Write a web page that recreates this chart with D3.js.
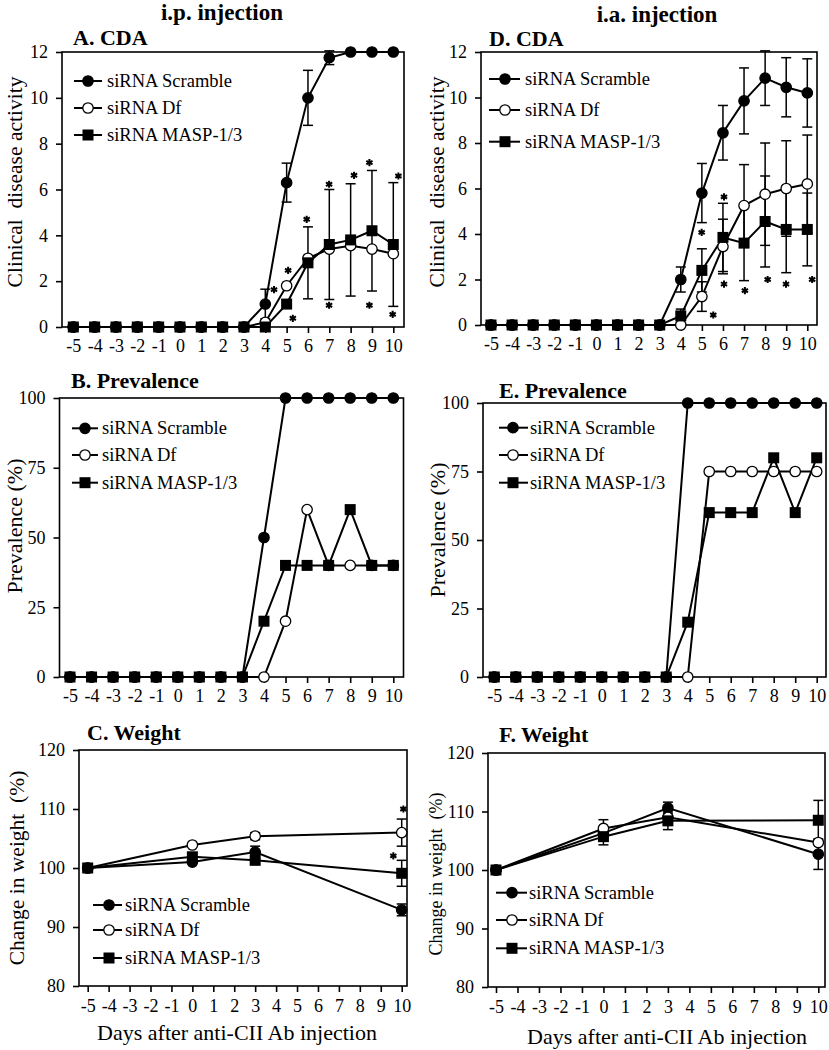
<!DOCTYPE html>
<html><head><meta charset="utf-8">
<script src="https://cdn.jsdelivr.net/npm/d3@7"></script>
<style>
body{margin:0;background:#fff}
svg{display:block}
text{font-family:"Liberation Serif","Times New Roman",serif;fill:#000}
</style>
</head><body>
<svg id="chart" width="829" height="1050"></svg>
<script>
// ---------- data ----------
const seriesNames = ["siRNA Scramble", "siRNA Df", "siRNA MASP-1/3"];
const days = [-5,-4,-3,-2,-1,0,1,2,3,4,5,6,7,8,9,10];
const weightDays = [-5, 0, 3, 10];
const dayTicks = [-5,-4,-3,-2,-1,0,1,2,3,4,5,6,7,8,9,10];
const cdaTicks = [0, 2, 4, 6, 8, 10, 12];
const prevTicks = [0, 25, 50, 75, 100];
const weightTicks = [80, 90, 100, 110, 120];

// A. CDA (i.p.)
const cdaIpScramble    = [0,0,0,0,0,0,0,0,0,1.0,6.3,10.0,11.75,12,12,12];
const cdaIpDf          = [0,0,0,0,0,0,0,0,0,0.2,1.8,3.0,3.4,3.55,3.4,3.2];
const cdaIpMasp        = [0,0,0,0,0,0,0,0,0,0,1.0,2.8,3.6,3.8,4.2,3.6];
const cdaIpScrambleErr = [0,0,0,0,0,0,0,0,0,0.65,0.85,1.2,0.3,0,0,0];
const cdaIpDfErr       = [0,0,0,0,0,0,0,0,0,0,0,0,0,0,0,0];
const cdaIpMaspErr     = [0,0,0,0,0,0,0,0,0,0,0,1.57,2.4,2.45,2.63,2.7];
const cdaIpStarDays    = [4.41,5.07,5.29,5.94,6.99,6.99,8.16,8.88,8.88,10.24,9.97];
const cdaIpStarValues  = [1.63,2.47,0.38,4.7,6.23,0.95,6.62,7.17,0.95,6.59,0.55];

// D. CDA (i.a.)
const cdaIaScramble    = [0,0,0,0,0,0,0,0,0,2.0,5.8,8.45,9.85,10.85,10.45,10.2];
const cdaIaDf          = [0,0,0,0,0,0,0,0,0,0,1.25,3.45,5.25,5.75,6.0,6.2];
const cdaIaMasp        = [0,0,0,0,0,0,0,0,0,0.4,2.4,3.85,3.6,4.55,4.2,4.2];
const cdaIaScrambleErr = [0,0,0,0,0,0,0,0,0,0.55,1.3,1.2,1.45,1.2,1.3,1.5];
const cdaIaDfErr       = [0,0,0,0,0,0,0,0,0,0,0.65,1.2,1.8,2.25,2.1,2.15];
const cdaIaMaspErr     = [0,0,0,0,0,0,0,0,0,0.3,0.95,1.5,1.65,2.0,1.9,1.6];
const cdaIaStarDays    = [4.99,5.54,6.05,6.05,7.04,8.12,8.99,10.23];
const cdaIaStarValues  = [4.07,0.44,5.63,1.8,1.51,2.0,1.8,2.0];

// B. Prevalence (i.p.)
const prevIpScramble = [0,0,0,0,0,0,0,0,0,50,100,100,100,100,100,100];
const prevIpDf       = [0,0,0,0,0,0,0,0,0,0,20,60,40,40,40,40];
const prevIpMasp     = [0,0,0,0,0,0,0,0,0,20,40,40,40,60,40,40];

// E. Prevalence (i.a.)
const prevIaScramble = [0,0,0,0,0,0,0,0,0,100,100,100,100,100,100,100];
const prevIaDf       = [0,0,0,0,0,0,0,0,0,0,75,75,75,75,75,75];
const prevIaMasp     = [0,0,0,0,0,0,0,0,0,20,60,60,60,80,60,80];

// C. Weight (i.p.)
const wIpScramble    = [100, 101.0, 102.7, 92.9];
const wIpDf          = [100, 103.9, 105.4, 106.0];
const wIpMasp        = [100, 101.9, 101.3, 99.1];
const wIpScrambleErr = [0, 0, 1.0, 1.0];
const wIpDfErr       = [0, 0, 0.6, 2.3];
const wIpMaspErr     = [0, 0, 0, 2.2];
const wIpStarDays    = [10.08, 9.6];
const wIpStarValues  = [110.0, 102.05];

// F. Weight (i.a.)
const wIaScramble    = [100, 106.3, 110.6, 102.7];
const wIaDf          = [100, 107.1, 109.0, 104.7];
const wIaMasp        = [100, 105.7, 108.4, 108.5];
const wIaScrambleErr = [0, 0, 1.0, 2.6];
const wIaDfErr       = [0, 1.5, 0, 0];
const wIaMaspErr     = [0, 1.4, 1.5, 3.4];

// ---------- drawing ----------
const svg = d3.select("#chart");
svg.append("rect").attr("width", 829).attr("height", 1050).attr("fill", "#fff");

const markerKinds = ["filled", "open", "square"];
const fmt = d => String(d);

function drawMarker(g, kind, cx, cy) {
  if (kind === "square") {
    g.append("rect").attr("x", cx - 5.5).attr("y", cy - 5.5).attr("width", 11).attr("height", 11)
      .attr("fill", "#000");
  } else {
    g.append("circle").attr("cx", cx).attr("cy", cy).attr("r", 5.2)
      .attr("fill", kind === "open" ? "#fff" : "#000").attr("stroke", "#000").attr("stroke-width", 1.3);
  }
}

function drawPanel(p) {
  const g = svg.append("g");
  const x = d3.scaleLinear().domain([-5, 10]).range([p.x0, p.x1]);
  const y = d3.scaleLinear().domain(p.yDomain).range([p.b, p.t]);

  // frame
  g.append("rect").attr("x", p.l).attr("y", p.t).attr("width", p.r - p.l).attr("height", p.b - p.t)
    .attr("fill", "none").attr("stroke", "#000").attr("stroke-width", 1.6);

  // y axis
  const ya = g.append("g").attr("transform", `translate(${p.l},0)`)
    .call(d3.axisLeft(y).tickValues(p.yTicks).tickSize(6).tickPadding(8).tickFormat(fmt));
  ya.select(".domain").remove();
  ya.selectAll("line").attr("stroke-width", 1.6);
  ya.selectAll("text").style("font-family", '"Liberation Serif",serif').style("font-size", "18px");

  // x axis
  const xa = g.append("g").attr("transform", `translate(0,${p.b})`)
    .call(d3.axisBottom(x).tickValues(dayTicks).tickSize(6).tickPadding(p.xPad).tickFormat(fmt));
  xa.select(".domain").remove();
  xa.selectAll("line").attr("stroke-width", 1.6);
  xa.selectAll("text").style("font-family", '"Liberation Serif",serif').style("font-size", "18px");

  // panel title
  g.append("text").attr("x", p.titleX).attr("y", p.titleY).style("font-weight", "bold")
    .style("font-size", "22px").text(p.title);

  // y label
  g.append("text").attr("transform", `translate(${p.ylabX},${p.ylabY}) rotate(-90)`)
    .attr("text-anchor", "middle").attr("dominant-baseline", "central")
    .style("font-size", p.ylabFont + "px").style("white-space", "pre").text(p.ylab);

  const line = d3.line().x(d => x(d.day)).y(d => y(d.v));

  const seriesData = p.series.map((vals, si) => vals.map((v, i) => ({
    day: p.days[i], v: v, e: p.errs ? p.errs[si][i] : 0
  })));

  // lines
  seriesData.forEach(sd => {
    g.append("path").datum(sd).attr("d", line).attr("fill", "none")
      .attr("stroke", "#000").attr("stroke-width", 2);
  });

  // error bars
  seriesData.forEach(sd => {
    sd.filter(d => d.e > 0).forEach(d => {
      const cx = x(d.day), y1 = y(d.v + d.e), y2 = y(d.v - d.e);
      g.append("line").attr("x1", cx).attr("x2", cx).attr("y1", y1).attr("y2", y2)
        .attr("stroke", "#000").attr("stroke-width", 1.5);
      [y1, y2].forEach(yy => g.append("line").attr("x1", cx - 5).attr("x2", cx + 5)
        .attr("y1", yy).attr("y2", yy).attr("stroke", "#000").attr("stroke-width", 1.5));
    });
  });

  // markers
  seriesData.forEach((sd, si) => {
    sd.forEach(d => drawMarker(g, markerKinds[si], x(d.day), y(d.v)));
  });

  // asterisks
  if (p.starDays) {
    const sym = d3.symbol().type(d3.symbolAsterisk).size(36);
    p.starDays.forEach((sdv, i) => {
      g.append("path").attr("d", sym())
        .attr("transform", `translate(${x(sdv)},${y(p.starValues[i])})`)
        .attr("fill", "none").attr("stroke", "#000").attr("stroke-width", 2);
    });
  }

  // legend
  seriesNames.forEach((name, i) => {
    const ly = p.legY[i];
    g.append("line").attr("x1", p.legL0).attr("x2", p.legL1).attr("y1", ly).attr("y2", ly)
      .attr("stroke", "#000").attr("stroke-width", 2);
    drawMarker(g, markerKinds[i], p.legM, ly);
    g.append("text").attr("x", p.legT).attr("y", ly).attr("dominant-baseline", "central")
      .style("font-size", "18.5px").text(name);
  });

  // x title
  if (p.xTitle) {
    g.append("text").attr("x", p.xTitleX).attr("y", p.xTitleY).attr("text-anchor", "middle")
      .style("font-size", "22px").text(p.xTitle);
  }
}

// column titles
svg.append("text").attr("x", 222).attr("y", 20).attr("text-anchor", "middle")
  .style("font-weight", "bold").style("font-size", "23px").text("i.p. injection");
svg.append("text").attr("x", 657).attr("y", 22).attr("text-anchor", "middle")
  .style("font-weight", "bold").style("font-size", "23px").text("i.a. injection");

drawPanel({
  title: "A. CDA", titleX: 73, titleY: 45,
  l: 62, t: 52, r: 404, b: 327, x0: 73.3, x1: 393.3, xPad: 6,
  yDomain: [0, 12], yTicks: cdaTicks,
  ylab: "Clinical  disease activity", ylabX: 15, ylabY: 182, ylabFont: 21.5,
  days: days, series: [cdaIpScramble, cdaIpDf, cdaIpMasp],
  errs: [cdaIpScrambleErr, cdaIpDfErr, cdaIpMaspErr],
  starDays: cdaIpStarDays, starValues: cdaIpStarValues,
  legL0: 74, legL1: 102, legM: 88, legT: 107, legY: [81, 108, 135]
});

drawPanel({
  title: "D. CDA", titleX: 489, titleY: 46,
  l: 481, t: 52, r: 817, b: 325, x0: 491, x1: 807.3, xPad: 6,
  yDomain: [0, 12], yTicks: cdaTicks,
  ylab: "Clinical  disease activity", ylabX: 437, ylabY: 182, ylabFont: 21.5,
  days: days, series: [cdaIaScramble, cdaIaDf, cdaIaMasp],
  errs: [cdaIaScrambleErr, cdaIaDfErr, cdaIaMaspErr],
  starDays: cdaIaStarDays, starValues: cdaIaStarValues,
  legL0: 489, legL1: 520, legM: 505, legT: 525, legY: [79, 110, 141.7]
});

drawPanel({
  title: "B. Prevalence", titleX: 71, titleY: 388,
  l: 59.5, t: 398, r: 403.5, b: 677, x0: 70, x1: 393.3, xPad: 6,
  yDomain: [0, 100], yTicks: prevTicks,
  ylab: "Prevalence (%)", ylabX: 14, ylabY: 526, ylabFont: 22,
  days: days, series: [prevIpScramble, prevIpDf, prevIpMasp],
  legL0: 72, legL1: 98, legM: 85, legT: 102, legY: [428.3, 455, 482.7]
});

drawPanel({
  title: "E. Prevalence", titleX: 499, titleY: 398,
  l: 483, t: 403, r: 826, b: 677, x0: 494.3, x1: 816.7, xPad: 6,
  yDomain: [0, 100], yTicks: prevTicks,
  ylab: "Prevalence (%)", ylabX: 437, ylabY: 530, ylabFont: 22,
  days: days, series: [prevIaScramble, prevIaDf, prevIaMasp],
  legL0: 499, legL1: 528, legM: 513, legT: 530, legY: [427.7, 455, 482.7]
});

drawPanel({
  title: "C. Weight", titleX: 87, titleY: 740,
  l: 79, t: 750, r: 407, b: 986, x0: 87.7, x1: 401.7, xPad: 7,
  yDomain: [80, 120], yTicks: weightTicks,
  ylab: "Change in weight  (%)", ylabX: 17, ylabY: 868, ylabFont: 21.5,
  days: weightDays, series: [wIpScramble, wIpDf, wIpMasp],
  errs: [wIpScrambleErr, wIpDfErr, wIpMaspErr],
  starDays: wIpStarDays, starValues: wIpStarValues,
  legL0: 93, legL1: 122, legM: 109, legT: 125, legY: [905, 930, 958],
  xTitle: "Days after anti-CII Ab injection", xTitleX: 237, xTitleY: 1040
});

drawPanel({
  title: "F. Weight", titleX: 499, titleY: 742,
  l: 488, t: 753, r: 825, b: 987, x0: 496, x1: 818.3, xPad: 7,
  yDomain: [80, 120], yTicks: weightTicks,
  ylab: "Change in weight  (%)", ylabX: 436, ylabY: 874, ylabFont: 18,
  days: weightDays, series: [wIaScramble, wIaDf, wIaMasp],
  errs: [wIaScrambleErr, wIaDfErr, wIaMaspErr],
  legL0: 496, legL1: 527, legM: 512, legT: 529, legY: [892.7, 920, 948.3],
  xTitle: "Days after anti-CII Ab injection", xTitleX: 667, xTitleY: 1044
});
</script>
</body></html>
